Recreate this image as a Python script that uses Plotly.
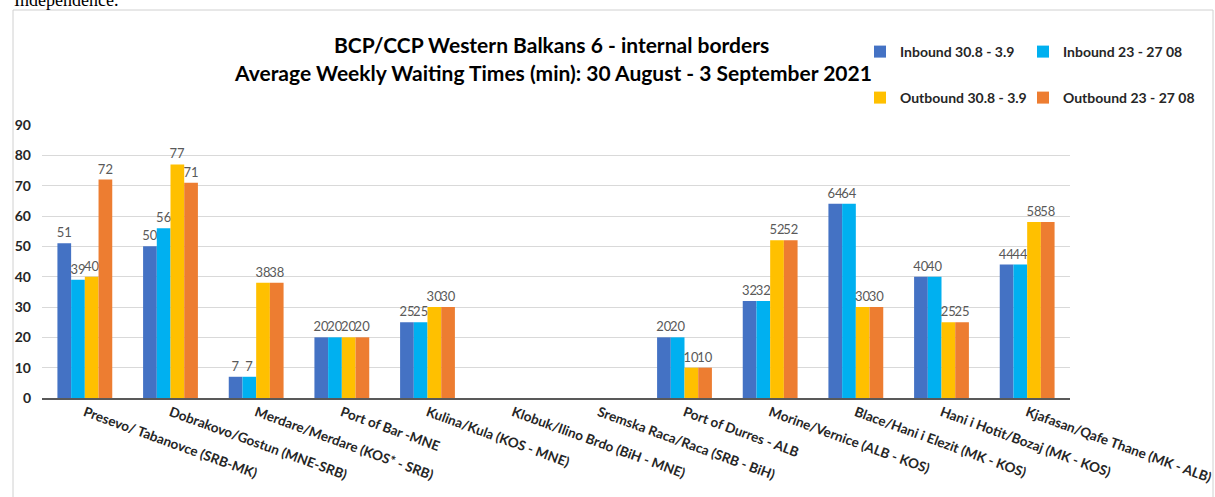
import plotly.graph_objects as go

categories = [
    "Presevo/ Tabanovce (SRB-MK)",
    "Dobrakovo/Gostun (MNE-SRB)",
    "Merdare/Merdare (KOS* - SRB)",
    "Port of Bar -MNE",
    "Kulina/Kula (KOS - MNE)",
    "Klobuk/Ilino Brdo (BiH - MNE)",
    "Sremska Raca/Raca (SRB - BiH)",
    "Port of Durres - ALB",
    "Morine/Vernice (ALB - KOS)",
    "Blace/Hani i Elezit (MK - KOS)",
    "Hani i Hotit/Bozaj (MK - KOS)",
    "Kjafasan/Qafe Thane (MK - ALB)",
]
inbound_now = [51, 50, 7, 20, 25, None, None, 20, 32, 64, 40, 44]
inbound_prev = [39, 56, 7, 20, 25, None, None, 20, 32, 64, 40, 44]
outbound_now = [40, 77, 38, 20, 30, None, None, 10, 52, 30, 25, 58]
outbound_prev = [72, 71, 38, 20, 30, None, None, 10, 52, 30, 25, 58]
series_names = ["Inbound 30.8 - 3.9", "Inbound 23 - 27 08",
                "Outbound 30.8 - 3.9", "Outbound 23 - 27 08"]
colors = ["#4472C4", "#00B0F0", "#FFC000", "#ED7D31"]
y_ticks = [0, 10, 20, 30, 40, 50, 60, 70, 80, 90]

FONT = "Lato"
W, H = 1215, 497
L, R, T, B = 42, 145, 125, 99
PW, PH = W - L - R, H - T - B

def px(x):
    return (x - L) / PW

def py(y):
    return (H - B - y) / PH

fig = go.Figure()
legend_ids = ["legend", "legend2", "legend3", "legend4"]
legend_pos = [(860, 52), (1023, 52), (860, 98), (1023, 98)]
for name, vals, col, lg in zip(series_names,
                               [inbound_now, inbound_prev, outbound_now, outbound_prev],
                               colors, legend_ids):
    fig.add_trace(go.Bar(
        x=categories, y=vals, name=name, marker_color=col,
        marker_line_width=0,
        text=[("" if v is None else str(v)) for v in vals],
        textposition="outside", constraintext="none", cliponaxis=False,
        textfont=dict(family=FONT, size=13, color="#595959"),
        legend=lg,
    ))

legend_layout = {}
for lg, (lx, ly) in zip(legend_ids, legend_pos):
    legend_layout[lg] = dict(orientation="h", x=px(lx), xanchor="left", y=py(ly),
                             yanchor="middle", itemwidth=30,
                             font=dict(family=FONT, size=14, color="#262626", weight="bold"),
                             bgcolor="rgba(0,0,0,0)")

fig.update_layout(
    width=W, height=H,
    margin=dict(l=L, r=R, t=T, b=B, autoexpand=False),
    paper_bgcolor="white", plot_bgcolor="white",
    barmode="group", bargap=0.36, bargroupgap=0,
    font=dict(family=FONT, color="#262626"),
    xaxis=dict(tickangle=20, tickfont=dict(family=FONT, size=13.5, color="#262626", weight="bold"),
               showline=True, linecolor="#595959", linewidth=1.5, ticks="",
               showgrid=False, automargin=False),
    yaxis=dict(range=[0, 90], tickvals=y_ticks, showgrid=True, gridcolor="#D9D9D9",
               zeroline=False, tickfont=dict(family=FONT, size=14, color="#262626", weight="bold"),
               ticklabelstandoff=10, automargin=False),
    showlegend=True,
    **legend_layout,
)

fig.add_annotation(text="BCP/CCP Western Balkans 6 - internal borders",
                   x=px(551), y=py(45), xref="paper", yref="paper", showarrow=False,
                   xanchor="center", yanchor="middle",
                   font=dict(family=FONT, size=21, color="#000000", weight="bold"))
fig.add_annotation(text="Average Weekly Waiting Times (min): 30 August - 3 September 2021",
                   x=px(553), y=py(72), xref="paper", yref="paper", showarrow=False,
                   xanchor="center", yanchor="middle",
                   font=dict(family=FONT, size=21, color="#000000", weight="bold"))
fig.add_annotation(text="Independence.",
                   x=px(12), y=py(12), xref="paper", yref="paper", showarrow=False,
                   xanchor="left", yanchor="bottom",
                   font=dict(family="Liberation Serif", size=18, color="#000000"))
fig.add_shape(type="rect", xref="paper", yref="paper",
              x0=px(13), x1=px(1213), y0=py(520), y1=py(10),
              line=dict(color="#D0D0D0", width=1), fillcolor="rgba(0,0,0,0)", layer="below")

fig.write_html("out.html", config={"displayModeBar": False},
               post_script="document.body.style.margin='0';document.body.style.overflow='hidden';")
